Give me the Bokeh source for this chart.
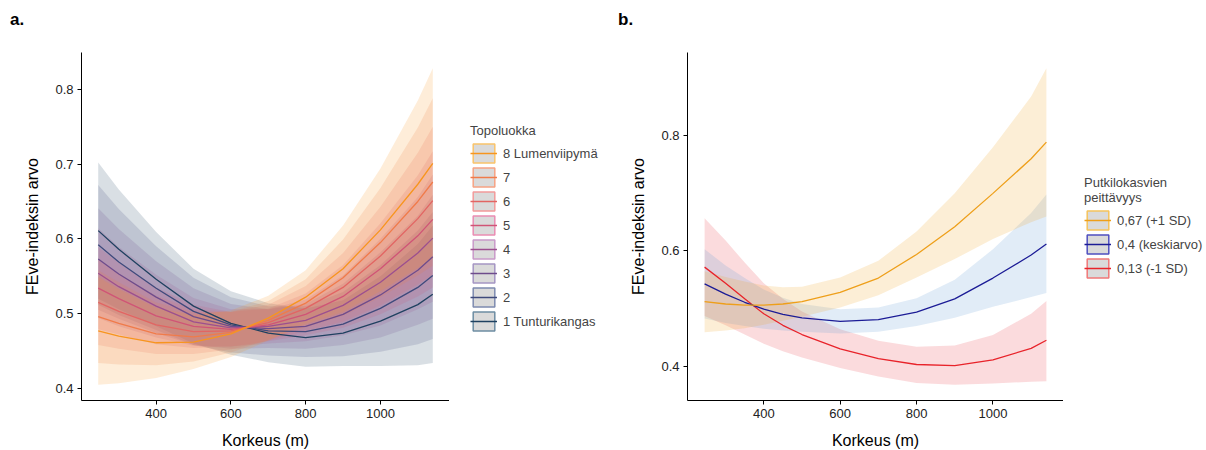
from bokeh.plotting import figure
from bokeh.layouts import row, column
from bokeh.models import Range1d, FixedTicker, Legend, LegendItem, Div
from bokeh.embed import file_html
from bokeh.resources import INLINE

FONT = "Liberation Sans"

# ---------------- data ----------------
korkeus = [245, 300, 400, 500, 600, 700, 800, 900, 1000, 1100, 1140]

# Panel a: Topoluokka classes (fit, lower, upper)
topo1_fit = [0.611, 0.586, 0.546, 0.510, 0.487, 0.474, 0.468, 0.474, 0.490, 0.512, 0.526]
topo1_lo = [0.520, 0.506, 0.483, 0.460, 0.445, 0.435, 0.429, 0.430, 0.430, 0.431, 0.434]
topo1_hi = [0.702, 0.666, 0.609, 0.560, 0.530, 0.514, 0.507, 0.518, 0.550, 0.593, 0.618]

topo2_fit = [0.592, 0.569, 0.534, 0.503, 0.485, 0.477, 0.476, 0.486, 0.507, 0.535, 0.551]
topo2_lo = [0.512, 0.498, 0.478, 0.458, 0.448, 0.444, 0.442, 0.443, 0.449, 0.459, 0.466]
topo2_hi = [0.672, 0.640, 0.590, 0.548, 0.522, 0.510, 0.510, 0.529, 0.565, 0.611, 0.636]

topo3_fit = [0.573, 0.553, 0.522, 0.496, 0.483, 0.480, 0.483, 0.499, 0.525, 0.558, 0.576]
topo3_lo = [0.505, 0.493, 0.474, 0.458, 0.453, 0.454, 0.453, 0.458, 0.468, 0.485, 0.493]
topo3_hi = [0.641, 0.613, 0.570, 0.534, 0.513, 0.506, 0.513, 0.540, 0.582, 0.631, 0.659]

topo4_fit = [0.554, 0.536, 0.510, 0.489, 0.481, 0.483, 0.491, 0.511, 0.542, 0.581, 0.601]
topo4_lo = [0.494, 0.483, 0.468, 0.457, 0.456, 0.460, 0.463, 0.471, 0.484, 0.506, 0.516]
topo4_hi = [0.614, 0.589, 0.552, 0.521, 0.506, 0.506, 0.519, 0.551, 0.600, 0.656, 0.686]

topo5_fit = [0.534, 0.520, 0.497, 0.483, 0.479, 0.485, 0.499, 0.523, 0.560, 0.604, 0.626]
topo5_lo = [0.479, 0.472, 0.459, 0.454, 0.456, 0.463, 0.471, 0.481, 0.499, 0.523, 0.535]
topo5_hi = [0.589, 0.568, 0.535, 0.512, 0.502, 0.507, 0.527, 0.565, 0.621, 0.685, 0.717]

topo6_fit = [0.515, 0.503, 0.485, 0.476, 0.477, 0.488, 0.507, 0.535, 0.577, 0.627, 0.651]
topo6_lo = [0.458, 0.453, 0.446, 0.446, 0.452, 0.464, 0.477, 0.489, 0.511, 0.539, 0.552]
topo6_hi = [0.572, 0.553, 0.524, 0.506, 0.502, 0.512, 0.537, 0.581, 0.643, 0.715, 0.750]

topo7_fit = [0.496, 0.487, 0.473, 0.469, 0.475, 0.491, 0.514, 0.548, 0.595, 0.650, 0.676]
topo7_lo = [0.434, 0.432, 0.431, 0.436, 0.448, 0.465, 0.482, 0.497, 0.522, 0.551, 0.564]
topo7_hi = [0.558, 0.542, 0.515, 0.502, 0.502, 0.517, 0.546, 0.599, 0.668, 0.749, 0.788]

topo8_fit = [0.477, 0.470, 0.461, 0.462, 0.473, 0.494, 0.522, 0.560, 0.612, 0.673, 0.701]
topo8_lo = [0.405, 0.407, 0.414, 0.426, 0.442, 0.464, 0.486, 0.502, 0.530, 0.561, 0.574]
topo8_hi = [0.549, 0.533, 0.508, 0.498, 0.504, 0.524, 0.558, 0.618, 0.694, 0.785, 0.828]

topo_labels = ["1 Tunturikangas", "2", "3", "4", "5", "6", "7", "8 Lumenviipymä"]

# Panel b: Putkilokasvien peittävyys levels
korkeus_b = [245, 300, 350, 400, 450, 500, 600, 700, 800, 900, 1000, 1100, 1140]
cov_labels = ["0,67 (+1 SD)", "0,4 (keskiarvo)", "0,13 (-1 SD)"]
cov067_fit = [0.512, 0.508, 0.506, 0.506, 0.508, 0.512, 0.528, 0.553, 0.594, 0.642, 0.700, 0.760, 0.789]
cov067_lo = [0.459, 0.462, 0.466, 0.472, 0.479, 0.486, 0.502, 0.523, 0.554, 0.586, 0.621, 0.650, 0.660]
cov067_hi = [0.565, 0.555, 0.547, 0.540, 0.537, 0.538, 0.554, 0.583, 0.634, 0.700, 0.780, 0.868, 0.917]

cov040_fit = [0.543, 0.525, 0.511, 0.499, 0.490, 0.484, 0.478, 0.481, 0.494, 0.517, 0.553, 0.593, 0.612]
cov040_lo = [0.483, 0.475, 0.470, 0.465, 0.462, 0.460, 0.457, 0.460, 0.470, 0.484, 0.503, 0.520, 0.527]
cov040_hi = [0.603, 0.575, 0.553, 0.533, 0.519, 0.508, 0.499, 0.502, 0.518, 0.550, 0.603, 0.666, 0.698]

cov013_fit = [0.572, 0.544, 0.517, 0.491, 0.471, 0.455, 0.430, 0.413, 0.403, 0.401, 0.411, 0.431, 0.445]
cov013_lo = [0.487, 0.471, 0.455, 0.439, 0.426, 0.415, 0.397, 0.382, 0.371, 0.368, 0.370, 0.373, 0.374]
cov013_hi = [0.657, 0.618, 0.580, 0.544, 0.517, 0.495, 0.464, 0.444, 0.434, 0.436, 0.454, 0.491, 0.513]

x_ticks = [400, 600, 800, 1000]
ya_ticks = [0.4, 0.5, 0.6, 0.7, 0.8]
yb_ticks = [0.4, 0.6, 0.8]

# ---------------- styling ----------------
topo_line_cols = ["#1F4160", "#3F4A7C", "#6E4C8C", "#9C4F8F", "#D05476", "#E26563", "#F07B4A", "#F7951E"]
topo_key_border = ["#6D8DA3", "#7E8BB0", "#A596C4", "#C99AC9", "#EA8DB3", "#F29B9B", "#F6A384", "#F9C46B"]

cov_line_cols = ["#EE9F1A", "#1C1C96", "#E8232A"]
cov_band_cols = ["#F0A830", "#6A9FD8", "#EC4A55"]
cov_key_border = ["#F5C35C", "#4F4FC0", "#F07878"]


def style(p, yticks):
    p.xgrid.visible = False
    p.ygrid.visible = False
    p.outline_line_color = None
    p.background_fill_color = "white"
    p.border_fill_color = "white"
    p.xaxis.ticker = FixedTicker(ticks=x_ticks)
    p.yaxis.ticker = FixedTicker(ticks=yticks)
    for ax in (p.xaxis[0], p.yaxis[0]):
        ax.axis_line_color = "#000000"
        ax.axis_line_width = 1
        ax.major_tick_line_color = "#000000"
        ax.major_tick_out = 4
        ax.major_tick_in = 0
        ax.minor_tick_line_color = None
        ax.major_label_text_font = FONT
        ax.major_label_text_font_size = "13px"
        ax.major_label_text_color = "#222222"
        ax.major_label_standoff = 4
        ax.axis_label_text_font = FONT
        ax.axis_label_text_font_size = "16px"
        ax.axis_label_text_font_style = "normal"
        ax.axis_label_text_color = "#000000"
        ax.axis_label_standoff = 11


def legend_figure(width, xs, ys_list, labels, line_cols, borders, title, loc):
    """A small axis-less figure that only carries the legend (keys drawn from the series data)."""
    lf = figure(width=width, height=420, x_range=Range1d(0, 1), y_range=Range1d(0, 1),
                output_backend="svg", toolbar_location=None,
                x_axis_location=None, y_axis_location=None,
                min_border_left=0, min_border_right=0, min_border_top=0, min_border_bottom=0)
    lf.grid.visible = False
    lf.outline_line_color = None
    lf.background_fill_color = "white"
    lf.border_fill_color = "white"
    items = []
    for lab, yv, lc, bc in zip(labels, ys_list, line_cols, borders):
        key = lf.rect(x=xs, y=yv, width=1, height=0.001, fill_color="#DADADA",
                      line_color=bc, line_width=1.5, visible=False)
        ln = lf.line(x=xs, y=yv, line_color=lc, line_width=1.5, visible=False)
        items.append(LegendItem(label=lab, renderers=[key, ln]))
    leg = Legend(items=items, location=loc, title=title,
                 glyph_width=27, glyph_height=24, spacing=0, label_standoff=6,
                 padding=0, margin=0, border_line_color=None,
                 background_fill_alpha=0, click_policy="none",
                 label_text_font=FONT, label_text_font_size="13px",
                 title_text_font=FONT, title_text_font_size="13px",
                 title_text_line_height=1.3,
                 title_text_font_style="normal", title_standoff=3)
    lf.add_layout(leg)
    return lf


# ---------------- panel a ----------------
pa = figure(frame_width=368, frame_height=348,
            x_range=Range1d(200.25, 1184.75), y_range=Range1d(0.3838, 0.8492),
            output_backend="svg", toolbar_location=None,
            min_border_left=81, min_border_right=0, min_border_top=22, min_border_bottom=50,
            x_axis_label="Korkeus (m)", y_axis_label="FEve-indeksin arvo")
style(pa, ya_ticks)

topo_fit = [topo1_fit, topo2_fit, topo3_fit, topo4_fit, topo5_fit, topo6_fit, topo7_fit, topo8_fit]
topo_lo = [topo1_lo, topo2_lo, topo3_lo, topo4_lo, topo5_lo, topo6_lo, topo7_lo, topo8_lo]
topo_hi = [topo1_hi, topo2_hi, topo3_hi, topo4_hi, topo5_hi, topo6_hi, topo7_hi, topo8_hi]

for lo, hi, c in zip(topo_lo, topo_hi, topo_line_cols):
    pa.varea(x=korkeus, y1=lo, y2=hi, fill_color=c, fill_alpha=0.17)
for fit, c in zip(topo_fit, topo_line_cols):
    pa.line(x=korkeus, y=fit, line_color=c, line_width=1.3)

leg_a = legend_figure(161, korkeus, topo_fit[::-1], topo_labels[::-1], topo_line_cols[::-1],
                      topo_key_border[::-1], "Topoluokka", (21, 66))

# ---------------- panel b ----------------
pb = figure(frame_width=376, frame_height=348,
            x_range=Range1d(200.25, 1184.75), y_range=Range1d(0.3405, 0.9445),
            output_backend="svg", toolbar_location=None,
            min_border_left=77, min_border_right=0, min_border_top=22, min_border_bottom=50,
            x_axis_label="Korkeus (m)", y_axis_label="FEve-indeksin arvo")
style(pb, yb_ticks)

cov_fit = [cov067_fit, cov040_fit, cov013_fit]
cov_lo = [cov067_lo, cov040_lo, cov013_lo]
cov_hi = [cov067_hi, cov040_hi, cov013_hi]

for i in (2, 1, 0):
    pb.varea(x=korkeus_b, y1=cov_lo[i], y2=cov_hi[i], fill_color=cov_band_cols[i], fill_alpha=0.2)
for i in (2, 1, 0):
    pb.line(x=korkeus_b, y=cov_fit[i], line_color=cov_line_cols[i], line_width=1.3)

leg_b = legend_figure(143, korkeus_b, cov_fit, cov_labels, cov_line_cols, cov_key_border,
                      "Putkilokasvien\npeittävyys", (21, 119))

# ---------------- panel tags ----------------
tag_style = {"font-family": FONT, "font-size": "17px", "font-weight": "bold",
             "color": "#000000", "line-height": "19px"}
tag_a = Div(text="a.", width=600, height=20, margin=(10, 0, 0, 10), styles=tag_style)
tag_b = Div(text="b.", width=588, height=20, margin=(10, 0, 0, 8), styles=tag_style)

layout = column(row(tag_a, tag_b), row(pa, leg_a, pb, leg_b))
open("out.html", "w").write(file_html(layout, INLINE))
